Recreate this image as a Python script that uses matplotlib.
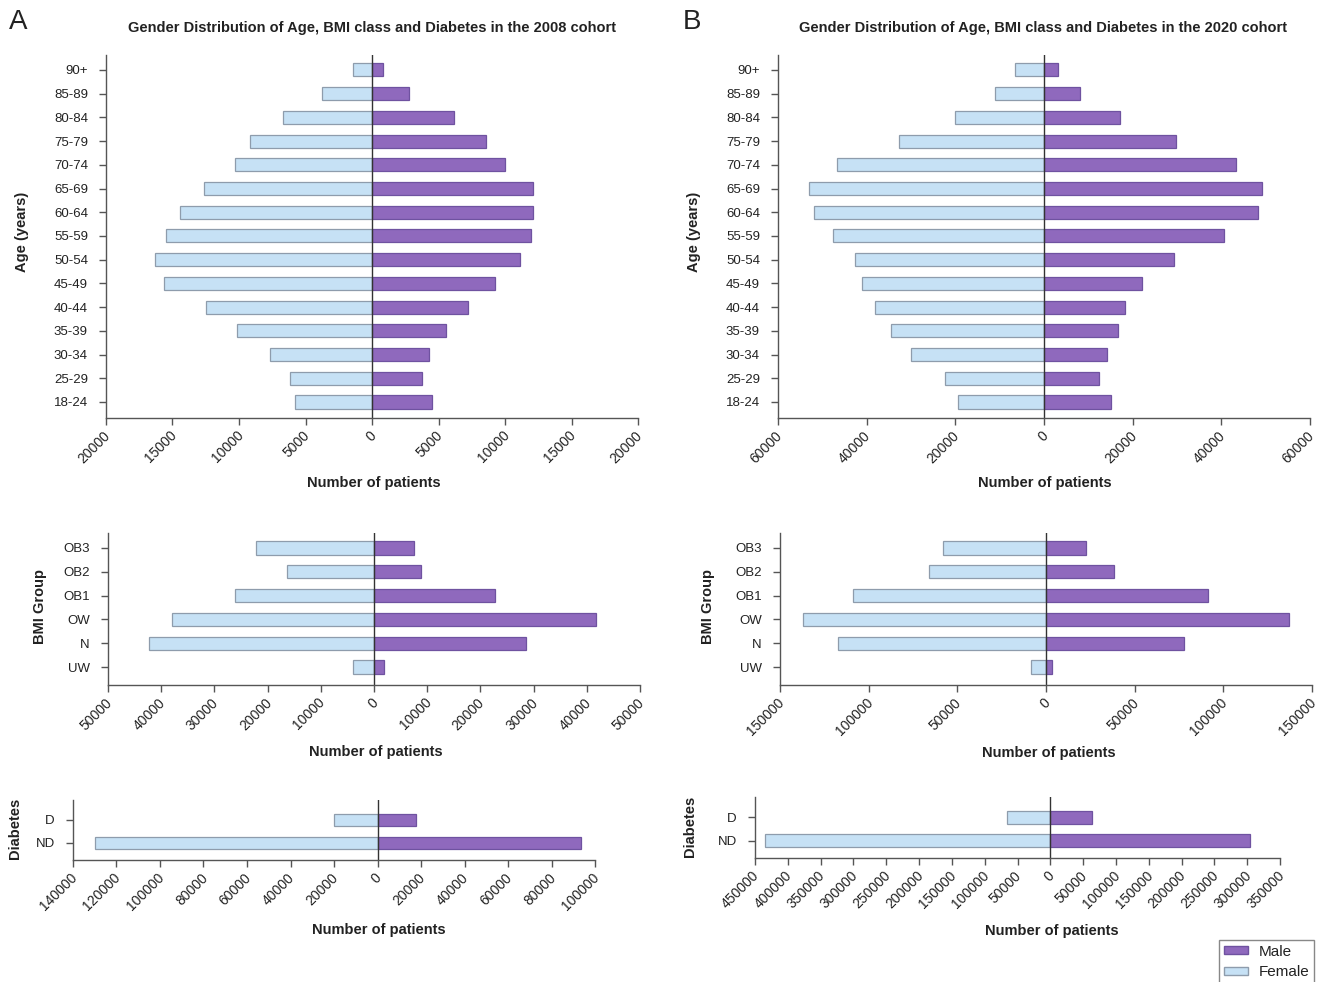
import matplotlib
matplotlib.use("Agg")
import matplotlib.pyplot as plt
import matplotlib.transforms as mtransforms
from matplotlib.patches import Patch
import numpy as np

plt.rcParams['font.family'] = ['Liberation Sans', 'DejaVu Sans']

W, H = 1319, 982

# categories (bottom to top)
age_groups = ["18-24", "25-29", "30-34", "35-39", "40-44", "45-49", "50-54",
              "55-59", "60-64", "65-69", "70-74", "75-79", "80-84", "85-89", "90+"]
bmi_groups = ["UW", "N", "OW", "OB1", "OB2", "OB3"]
diab_groups = ["ND", "D"]

# 2008 cohort
female_age_2008 = [5800, 6200, 7700, 10150, 12500, 15650, 16350, 15500, 14450,
                   12650, 10300, 9150, 6700, 3750, 1400]
male_age_2008 = [4500, 3750, 4250, 5550, 7200, 9250, 11150, 11950, 12100,
                 12100, 10000, 8550, 6150, 2800, 800]
female_bmi_2008 = [3900, 42200, 38000, 26100, 16400, 22200]
male_bmi_2008 = [1800, 28600, 41700, 22700, 8800, 7450]
female_diab_2008 = [129900, 20200]
male_diab_2008 = [93600, 17700]

# 2020 cohort
female_age_2020 = [19400, 22300, 30000, 34500, 38100, 41100, 42600, 47600, 51900,
                   53000, 46800, 32600, 20000, 11000, 6500]
male_age_2020 = [15100, 12400, 14100, 16700, 18200, 22000, 29300, 40600, 48200,
                 49200, 43200, 29700, 17200, 8100, 3200]
female_bmi_2020 = [8300, 117400, 136900, 109100, 66200, 58100]
male_bmi_2020 = [3600, 77600, 137100, 91100, 38200, 22300]
female_diab_2020 = [434600, 66700]
male_diab_2020 = [304500, 62800]

FEMALE, FEMALE_EDGE = "#c6e1f5", "#8e9cac"
MALE, MALE_EDGE = "#8f69bd", "#6f52a0"
TEXT = "#222222"

fig = plt.figure(figsize=(W / 100, H / 100), dpi=100)


def fx(x):
    return x / W


def fy(y):
    return 1 - y / H


def axes_px(left, top, right, bottom):
    return fig.add_axes([fx(left), fy(bottom), (right - left) / W, (bottom - top) / H])


def pyramid(box, cats, female, male, xticks, ylim):
    ax = axes_px(*box)
    y = np.arange(len(cats))
    ax.barh(y, -np.asarray(female), height=0.55, color=FEMALE,
            edgecolor=FEMALE_EDGE, linewidth=0.9)
    ax.barh(y, male, height=0.55, color=MALE, edgecolor=MALE_EDGE, linewidth=0.9)
    ax.axvline(0, color="#333333", lw=1)
    ax.set_xlim(xticks[0], xticks[-1])
    ax.set_ylim(*ylim)
    ax.set_yticks(y, cats)
    ax.set_xticks(xticks)
    ax.set_xticklabels([str(abs(t)) for t in xticks], rotation=45, ha="right",
                       va="center", rotation_mode="anchor")
    for s in ["top", "right"]:
        ax.spines[s].set_visible(False)
    for s in ["left", "bottom"]:
        ax.spines[s].set_color("#555555")
        ax.spines[s].set_linewidth(1)
    ax.tick_params(axis="both", length=5, width=1, color="#555555",
                   labelcolor=TEXT)
    ax.tick_params(axis="y", pad=8, labelsize=9.5)
    ax.tick_params(axis="x", pad=6, labelsize=10)
    # nudge rotated labels so their ends sit just right of the tick
    shift = mtransforms.ScaledTranslation(2 / 100, 0, fig.dpi_scale_trans)
    for lab in ax.get_xticklabels():
        lab.set_transform(lab.get_transform() + shift)
    return ax


def label(x, y, s, rot=0, size=10.5, weight="bold"):
    fig.text(fx(x), fy(y), s, rotation=rot, ha="center", va="center",
             fontsize=size, fontweight=weight, color=TEXT)


# age pyramids
pyramid((106, 55, 638, 418), age_groups, female_age_2008, male_age_2008,
        list(range(-20000, 20001, 5000)), (-0.675, 14.63))
pyramid((778, 55, 1310, 418), age_groups, female_age_2020, male_age_2020,
        list(range(-60000, 60001, 20000)), (-0.675, 14.63))

# BMI
pyramid((108, 533, 640, 685), bmi_groups, female_bmi_2008, male_bmi_2008,
        list(range(-50000, 50001, 10000)), (-0.756, 5.63))
pyramid((780, 533, 1312, 685), bmi_groups, female_bmi_2020, male_bmi_2020,
        list(range(-150000, 150001, 50000)), (-0.756, 5.63))

# diabetes
pyramid((73, 800, 595, 860), diab_groups, female_diab_2008, male_diab_2008,
        list(range(-140000, 100001, 20000)), (-0.74, 1.87))
pyramid((755, 797, 1280, 858), diab_groups, female_diab_2020, male_diab_2020,
        list(range(-450000, 350001, 50000)), (-0.74, 1.87))

# titles and panel letters
label(372, 28, "Gender Distribution of Age, BMI class and Diabetes in the 2008 cohort")
label(1043, 28, "Gender Distribution of Age, BMI class and Diabetes in the 2020 cohort")
fig.text(fx(9), fy(22), "A", fontsize=20, va="center", color=TEXT)
fig.text(fx(683), fy(22), "B", fontsize=20, va="center", color=TEXT)

# axis titles
label(22, 232, "Age (years)", rot=90)
label(694, 232, "Age (years)", rot=90)
label(40, 607, "BMI Group", rot=90)
label(708, 607, "BMI Group", rot=90)
label(15, 828, "Diabetes", rot=90)
label(690, 826, "Diabetes", rot=90)
label(374, 483, "Number of patients")
label(1045, 483, "Number of patients")
label(376, 752, "Number of patients")
label(1049, 753, "Number of patients")
label(379, 930, "Number of patients")
label(1052, 931, "Number of patients")

handles = [Patch(facecolor=MALE, edgecolor=MALE_EDGE, label="Male"),
           Patch(facecolor=FEMALE, edgecolor=FEMALE_EDGE, label="Female")]
fig.legend(handles=handles, loc="upper right", bbox_to_anchor=(fx(1314), fy(940)),
           borderaxespad=0, fancybox=False, edgecolor="#888888", fontsize=11,
           handlelength=1.6, handleheight=0.4, handletextpad=0.7,
           labelspacing=0.45, borderpad=0.3, framealpha=1, labelcolor=TEXT)

fig.savefig("out.png", dpi=100)
